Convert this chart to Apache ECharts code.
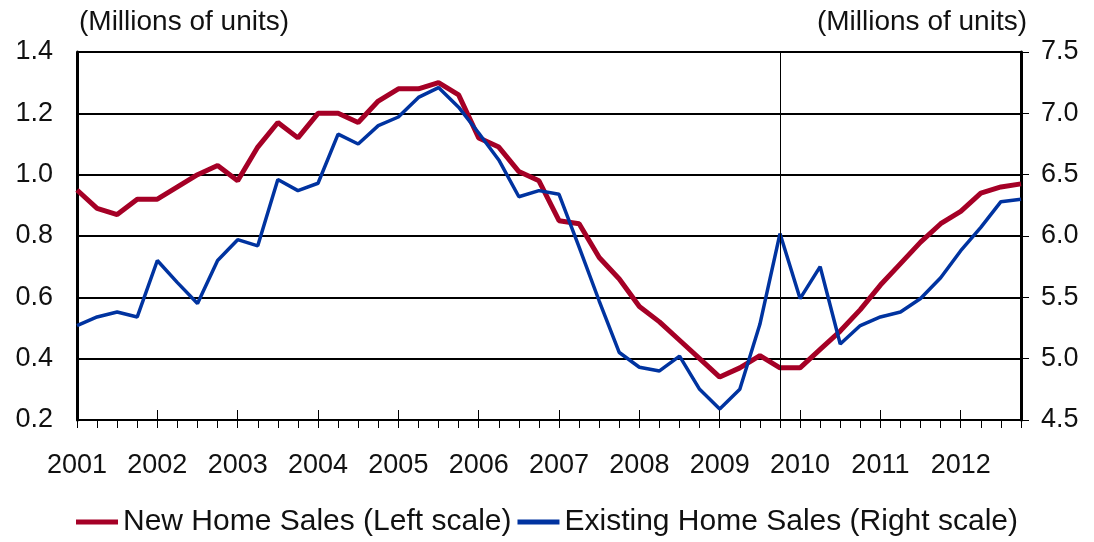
<!DOCTYPE html>
<html>
<head>
<meta charset="utf-8">
<script src="https://cdn.jsdelivr.net/npm/echarts@6/dist/echarts.min.js"></script>
<style>
  html, body { margin: 0; padding: 0; background: #fff; }
  #chart { width: 1094px; height: 542px; }
</style>
</head>
<body>
<div id="chart"></div>
<script>
// quarterly, 2001Q1 .. 2012Q4
const years = [2001, 2002, 2003, 2004, 2005, 2006, 2007, 2008, 2009, 2010, 2011, 2012];
const quarters = [];
years.forEach(y => { for (let q = 1; q <= 4; q++) quarters.push(y + 'Q' + q); });

// new home sales, millions (left scale)
const newHome = [
  0.95, 0.89, 0.87, 0.92, 0.92, 0.96, 1.00, 1.03,
  0.98, 1.09, 1.17, 1.12, 1.20, 1.20, 1.17, 1.24,
  1.28, 1.28, 1.30, 1.26, 1.12, 1.09, 1.01, 0.98,
  0.85, 0.84, 0.73, 0.66, 0.57, 0.52, 0.46, 0.40,
  0.34, 0.37, 0.41, 0.37, 0.37, 0.43, 0.49, 0.56,
  0.64, 0.71, 0.78, 0.84, 0.88, 0.94, 0.96, 0.97
];

// existing home sales, millions (right scale)
const existingHome = [
  5.27, 5.34, 5.38, 5.34, 5.80, 5.62, 5.45, 5.80,
  5.97, 5.92, 6.46, 6.37, 6.43, 6.83, 6.75, 6.90,
  6.97, 7.13, 7.21, 7.05, 6.84, 6.62, 6.32, 6.37,
  6.34, 5.91, 5.47, 5.05, 4.93, 4.90, 5.02, 4.75,
  4.59, 4.75, 5.28, 6.02, 5.49, 5.75, 5.12, 5.27,
  5.34, 5.38, 5.49, 5.66, 5.88, 6.07, 6.28, 6.30
];

const markerQuarter = '2009Q4';

const font = "'Liberation Sans', Arial, sans-serif";
const chart = echarts.init(document.getElementById('chart'));

chart.setOption({
  animation: false,
  textStyle: { fontFamily: font, color: '#111' },
  grid: { left: 77, right: 73, top: 52, bottom: 122 },
  legend: {
    bottom: 0,
    left: 'center',
    itemWidth: 42,
    itemHeight: 5,
    itemGap: 6,
    textStyle: { fontSize: 30, fontFamily: font, color: '#111' },
    data: [
      { name: 'New Home Sales (Left scale)', icon: 'rect' },
      { name: 'Existing Home Sales (Right scale)', icon: 'rect' }
    ]
  },
  xAxis: [
    {
      type: 'category',
      data: quarters,
      boundaryGap: false,
      axisLine: { lineStyle: { color: '#000', width: 2 } },
      axisTick: { show: true, interval: 0, length: 8, lineStyle: { color: '#000', width: 1 } },
      axisLabel: {
        interval: 3,
        margin: 32,
        fontSize: 27,
        color: '#111',
        formatter: v => v.slice(0, 4)
      },
      splitLine: { show: false }
    },
    {
      type: 'category',
      data: quarters,
      boundaryGap: false,
      position: 'bottom',
      axisLine: { show: false },
      axisTick: { show: true, inside: true, interval: 3, length: 10, lineStyle: { color: '#000', width: 1 } },
      axisLabel: { show: false },
      splitLine: { show: false }
    }
  ],
  yAxis: [
    {
      type: 'value',
      min: 0.2,
      max: 1.4,
      interval: 0.2,
      name: '(Millions of units)',
      nameLocation: 'end',
      nameGap: 16,
      nameTextStyle: { fontSize: 28, align: 'left', padding: [0, 0, 0, 2], color: '#111' },
      axisLine: { show: true, lineStyle: { color: '#000', width: 3 } },
      axisTick: { show: false },
      axisLabel: { fontSize: 27, margin: 24, color: '#111', formatter: v => v.toFixed(1) },
      splitLine: { show: true, lineStyle: { color: '#000', width: 2 } }
    },
    {
      type: 'value',
      min: 4.5,
      max: 7.5,
      interval: 0.5,
      position: 'right',
      name: '(Millions of units)',
      nameLocation: 'end',
      nameGap: 16,
      nameTextStyle: { fontSize: 28, align: 'right', padding: [0, -6, 0, 0], color: '#111' },
      axisLine: { show: true, lineStyle: { color: '#000', width: 3 } },
      axisTick: { show: true, length: 8, lineStyle: { color: '#000', width: 1 } },
      axisLabel: { fontSize: 27, margin: 20, color: '#111', formatter: v => v.toFixed(1) },
      splitLine: { show: false }
    }
  ],
  series: [
    {
      name: 'New Home Sales (Left scale)',
      type: 'line',
      data: newHome,
      yAxisIndex: 0,
      symbol: 'none',
      lineStyle: { color: '#A50026', width: 5 },
      itemStyle: { color: '#A50026' },
      z: 3,
      markLine: {
        silent: true,
        symbol: 'none',
        label: { show: false },
        lineStyle: { color: '#000', width: 1, type: 'solid' },
        data: [{ xAxis: markerQuarter }]
      }
    },
    {
      name: 'Existing Home Sales (Right scale)',
      type: 'line',
      data: existingHome,
      yAxisIndex: 1,
      symbol: 'none',
      lineStyle: { color: '#0033A0', width: 3.5 },
      itemStyle: { color: '#0033A0' },
      z: 4
    }
  ]
});
</script>
</body>
</html>
